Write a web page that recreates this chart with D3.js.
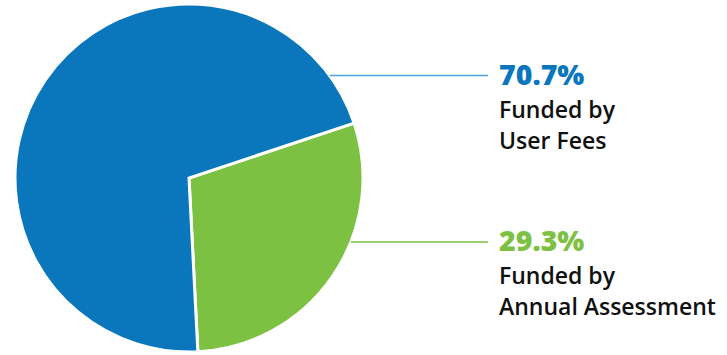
<!DOCTYPE html>
<html>
<head>
<meta charset="utf-8">
<title>Funding pie</title>
<style>
  body { margin: 0; background: #fff; }
  .pct { font-family: "Open Sans", Lato, sans-serif; font-weight: 800; font-size: 28.5px; }
  .lbl { font-family: "Open Sans", Lato, sans-serif; font-weight: 600; font-size: 23px; fill: #111; }
</style>
</head>
<body>
<script src="https://cdn.jsdelivr.net/npm/d3@7"></script>
<script>
// data
var sources = ['Annual Assessment', 'User Fees'];
var shares = [29.3, 70.7];
var colors = ['#7dc143', '#0a77bd'];
var lineColors = ['#7dc143', '#4fa2dc'];
var labelLines = [['Funded by', 'Annual Assessment'], ['Funded by', 'User Fees']];

var width = 727, height = 355;
var cx = 189, cy = 178, r = 174;
var labelY = [242, 75.5];   // leader line heights
var textX = 499, lineEnd = 488;
var start = 71.6 * Math.PI / 180;

var svg = d3.select('body').append('svg')
  .attr('width', width)
  .attr('height', height);

var pie = d3.pie().sort(null)
  .startAngle(start)
  .endAngle(start + 2 * Math.PI);
var arc = d3.arc().innerRadius(0).outerRadius(r);

var g = svg.append('g').attr('transform', 'translate(' + cx + ',' + cy + ')');
g.selectAll('path')
  .data(pie(shares))
  .enter().append('path')
  .attr('d', arc)
  .attr('fill', function (d, i) { return colors[i]; })
  .attr('stroke', '#fff')
  .attr('stroke-width', 3)
  .attr('stroke-linejoin', 'miter');

// leader lines + labels
sources.forEach(function (s, i) {
  var y = labelY[i];
  var x0 = cx + Math.sqrt(r * r - (y - cy) * (y - cy));
  svg.append('line')
    .attr('x1', x0).attr('x2', lineEnd)
    .attr('y1', y).attr('y2', y)
    .attr('stroke', lineColors[i])
    .attr('stroke-width', 1.5);

  svg.append('text')
    .attr('class', 'pct')
    .attr('x', textX)
    .attr('y', y + 9)
    .attr('fill', colors[i])
    .text(shares[i].toFixed(1) + '%');

  labelLines[i].forEach(function (t, j) {
    svg.append('text')
      .attr('class', 'lbl')
      .attr('x', textX)
      .attr('y', y + 42 + j * 31)
      .text(t);
  });
});
</script>
</body>
</html>
